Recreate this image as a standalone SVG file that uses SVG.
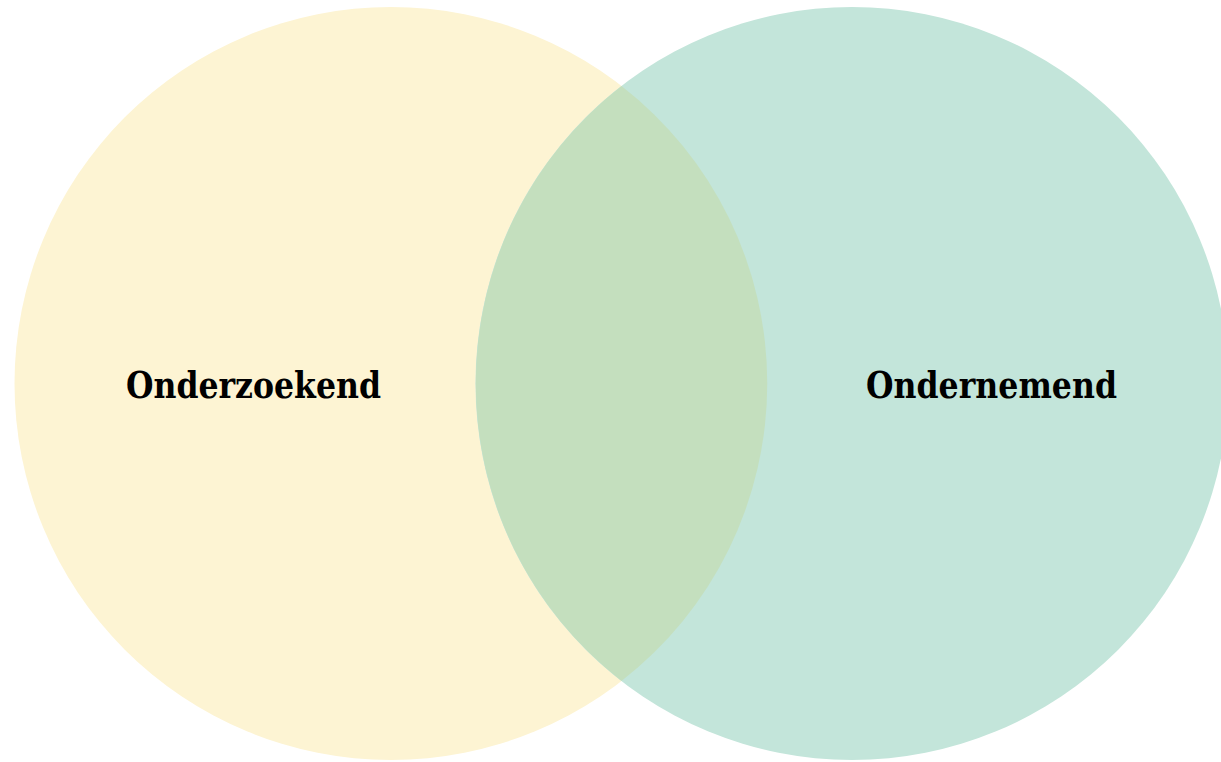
<svg xmlns="http://www.w3.org/2000/svg" width="1221" height="762" viewBox="0 0 1221 762">
<style>
.lbl{font-family:"DejaVu Serif","Liberation Serif",serif;font-weight:bold;font-size:37px;fill:#000000}
</style>
<rect width="1221" height="762" fill="#ffffff"/>
<g id="node-onderzoekend">
<circle cx="391" cy="383.5" r="376.5" fill="#FDF4D3"/>
</g>
<g id="node-ondernemend">
<circle cx="852" cy="383.5" r="376.5" fill="#C3E5DA"/>
</g>
<g id="overlap">
<path d="M621.5 86 A376.5 376.5 0 0 1 621.5 681 A376.5 376.5 0 0 1 621.5 86 Z" fill="#C4DFBE"/>
</g>
<g id="labels">
<text class="lbl" x="126" y="398" textLength="255" lengthAdjust="spacingAndGlyphs">Onderzoekend</text>
<text class="lbl" x="866" y="398" textLength="251" lengthAdjust="spacingAndGlyphs">Ondernemend</text>
</g>
<g id="connectors"/>
</svg>
